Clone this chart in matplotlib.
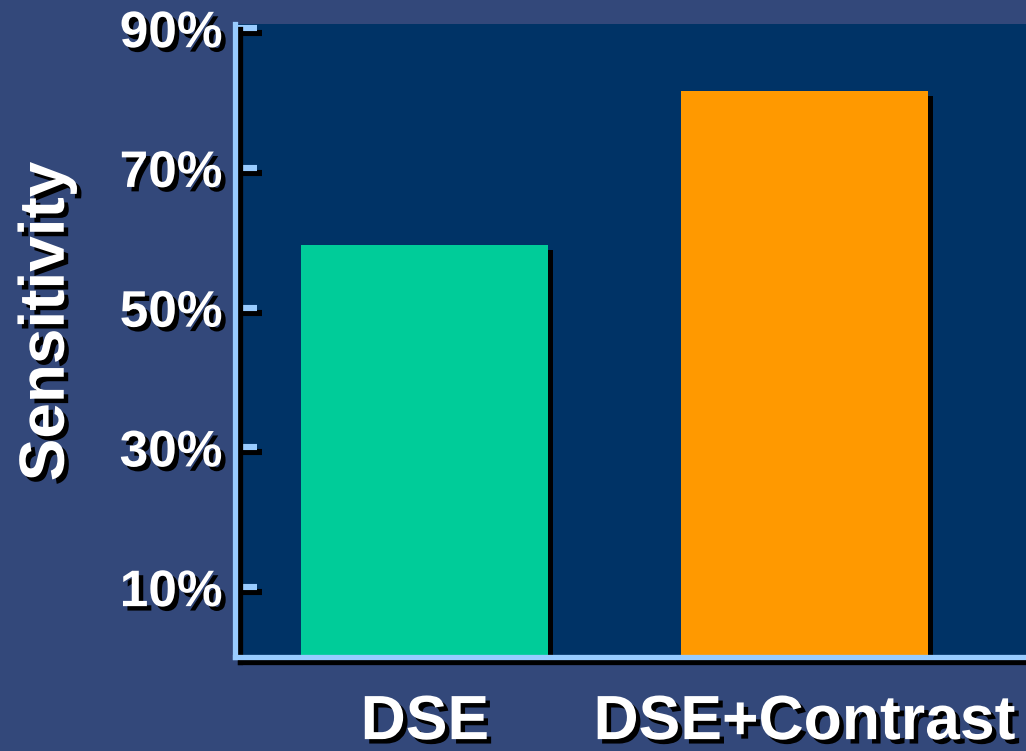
import matplotlib
matplotlib.use("Agg")
import matplotlib.pyplot as plt
import matplotlib.patheffects as pe
import numpy as np

# data
categories = ["DSE", "DSE+Contrast"]
sensitivity = [59, 81]
bar_colors = ["#00CC99", "#FF9900"]
yticks = [10, 30, 50, 70, 90]
ytick_labels = ["10%", "30%", "50%", "70%", "90%"]

plt.rcParams["font.family"] = ["Liberation Sans", "DejaVu Sans"]
plt.rcParams["font.weight"] = "bold"

BG = "#33487a"
PLOT_BG = "#003366"
AXIS_BLUE = "#99CCFF"

text_fx = [pe.withSimplePatchShadow(offset=(3.2, -3.2), shadow_rgbFace="black", alpha=1.0)]
line_fx = [pe.SimpleLineShadow(offset=(3.6, -3.6), shadow_color="black", alpha=1.0), pe.Normal()]

fig = plt.figure(figsize=(10.26, 7.51), dpi=100, facecolor=BG)
ax = fig.add_axes([235 / 1026, 1 - 657 / 751, 1 - 235 / 1026, (657 - 24) / 751])
ax.set_facecolor(PLOT_BG)

x = np.arange(len(categories))
bars = ax.bar(x, sensitivity, width=0.65, color=bar_colors, zorder=2)
for b in bars:
    b.set_path_effects([pe.withSimplePatchShadow(offset=(3.6, -3.6), shadow_rgbFace="black", alpha=1.0)])

ax.set_xlim(-0.5, 1.583)
ax.set_ylim(0, 90.6)

for side in ["top", "right"]:
    ax.spines[side].set_visible(False)
for side in ["left", "bottom"]:
    sp = ax.spines[side]
    sp.set_color(AXIS_BLUE)
    sp.set_linewidth(3.8)
    sp.set_path_effects(line_fx)
    sp.set_zorder(3)

ax.set_yticks(yticks)
ax.set_yticklabels(ytick_labels)
ax.tick_params(axis="y", direction="in", length=16, width=4.4, color=AXIS_BLUE,
               labelsize=37, labelcolor="white", pad=9)
for t in ax.yaxis.get_major_ticks():
    t.tick1line.set_path_effects(line_fx)
    t.tick1line.set_zorder(3)

ax.set_xticks(x)
ax.set_xticklabels(categories)
ax.tick_params(axis="x", length=0, labelsize=45, labelcolor="white", pad=26)

for lbl in ax.get_xticklabels() + ax.get_yticklabels():
    lbl.set_fontweight("bold")
    lbl.set_path_effects(text_fx)

ax.set_ylabel("Sensitivity", fontsize=46, color="white", fontweight="bold",
              va="center", ha="center", path_effects=text_fx)
ax.yaxis.set_label_coords(-0.238, 0.53)

fig.savefig("out.png", dpi=100, facecolor=BG)
